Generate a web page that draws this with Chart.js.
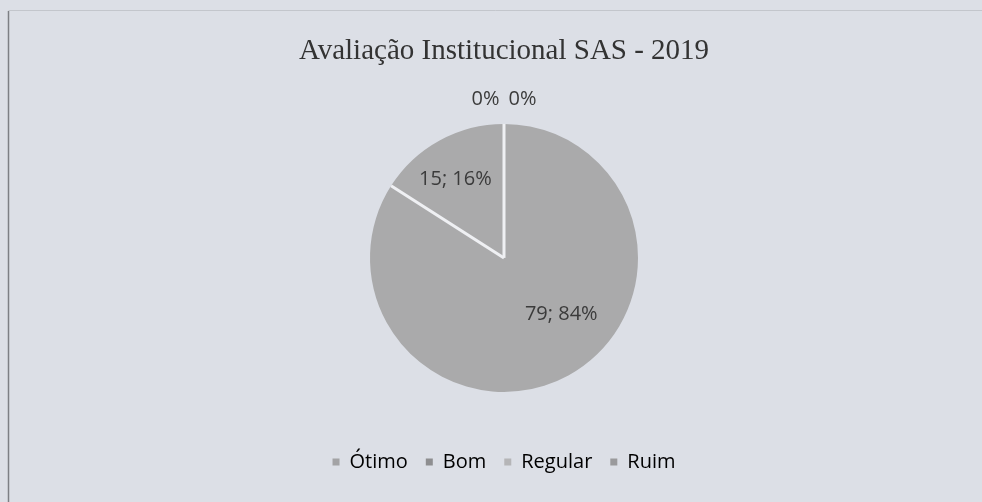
<!DOCTYPE html>
<html>
<head>
<meta charset="utf-8">
<script src="https://cdn.jsdelivr.net/npm/chart.js@4.4.0/dist/chart.umd.min.js"></script>
<style>
  html, body { margin: 0; padding: 0; background: #dcdfe6; }
  #wrap { position: relative; width: 982px; height: 502px; }
</style>
</head>
<body>
<div id="wrap"><canvas id="pieChart" width="982" height="502"></canvas></div>
<script>
// --- Données ---
const categories = ['Ótimo', 'Bom', 'Regular', 'Ruim'];
const respostas = [79, 15, 0, 0];
const percentuais = [84, 16, 0, 0];
const chartTitle = 'Avaliação Institucional SAS - 2019';

const sliceColors = ['#aaaaab', '#aaaaab', '#aaaaab', '#aaaaab'];
const legendColors = ['#a3a3a5', '#8e8e90', '#b5b5b7', '#9a9a9c'];

// position des étiquettes (rayon relatif, décalage d'angle en degrés)
const labelRadius = [0.6, 0.69];
const labelShift = [-16.7, -3];

// fond + bordure du cadre scanné
const frame = {
  id: 'frame',
  beforeDraw(chart) {
    const c = chart.ctx;
    c.save();
    c.fillStyle = '#dcdfe6';
    c.fillRect(0, 0, chart.width, chart.height);
    c.strokeStyle = '#7d7f84';
    c.lineWidth = 1.5;
    c.beginPath();
    c.moveTo(8.5, chart.height);
    c.lineTo(8.5, 11);
    c.stroke();
    c.strokeStyle = '#c3c6cc';
    c.lineWidth = 1;
    c.beginPath();
    c.moveTo(8.5, 10.5);
    c.lineTo(chart.width, 10.5);
    c.stroke();
    c.restore();
  }
};

// séparateurs blancs + étiquettes "valeur; %"
const sliceLabels = {
  id: 'sliceLabels',
  afterDatasetsDraw(chart) {
    const c = chart.ctx;
    const arcs = chart.getDatasetMeta(0).data;
    c.save();
    // séparateurs entre les parts
    c.strokeStyle = '#eff0f3';
    c.lineWidth = 3;
    arcs.forEach((arc, i) => {
      if (respostas[i] === 0) return;
      const p = arc.getProps(['x', 'y', 'startAngle', 'outerRadius'], true);
      c.beginPath();
      c.moveTo(p.x, p.y);
      c.lineTo(p.x + Math.cos(p.startAngle) * p.outerRadius, p.y + Math.sin(p.startAngle) * p.outerRadius);
      c.stroke();
    });

    c.font = '20px "Open Sans", "Noto Sans", sans-serif';
    c.fillStyle = '#3b3b3b';
    c.textAlign = 'center';
    c.textBaseline = 'middle';
    const zeros = respostas.map((v, i) => v === 0 ? i : -1).filter(i => i >= 0);
    let k = 0;
    arcs.forEach((arc, i) => {
      const { x, y, startAngle, endAngle, outerRadius } = arc.getProps(['x', 'y', 'startAngle', 'endAngle', 'outerRadius'], true);
      if (respostas[i] === 0) {
        const j = zeros.indexOf(i);
        const lx = x + (j - (zeros.length - 1) / 2) * 37;
        const ly = y + Math.sin(startAngle) * (outerRadius + 25);
        c.fillText(percentuais[i] + '%', lx, ly);
        return;
      }
      const mid = (startAngle + endAngle) / 2 + labelShift[k] * Math.PI / 180;
      const r = outerRadius * labelRadius[k];
      k++;
      c.fillText(respostas[i] + '; ' + percentuais[i] + '%', x + Math.cos(mid) * r, y + Math.sin(mid) * r);
    });
    c.restore();
  }
};

new Chart(document.getElementById('pieChart').getContext('2d'), {
  type: 'pie',
  data: {
    labels: categories,
    datasets: [{
      data: respostas,
      backgroundColor: sliceColors,
      borderWidth: 0
    }]
  },
  options: {
    responsive: false,
    animation: false,
    radius: 134,
    layout: { padding: { left: 26, right: 0, top: 0, bottom: 20 } },
    plugins: {
      title: {
        display: true,
        text: chartTitle,
        color: '#333333',
        font: { family: '"Liberation Serif", "Times New Roman", serif', size: 29, weight: 'normal' },
        padding: { top: 34, bottom: 13 }
      },
      legend: {
        position: 'bottom',
        labels: {
          color: '#3a3a3a',
          font: { family: '"Open Sans", "Noto Sans", sans-serif', size: 20 },
          boxWidth: 7,
          boxHeight: 7,
          padding: 18,
          generateLabels: (chart) => categories.map((name, i) => ({
            text: name,
            fillStyle: legendColors[i],
            strokeStyle: legendColors[i],
            lineWidth: 0,
            index: i
          }))
        }
      },
      tooltip: { enabled: false }
    }
  },
  plugins: [frame, sliceLabels]
});
</script>
</body>
</html>
